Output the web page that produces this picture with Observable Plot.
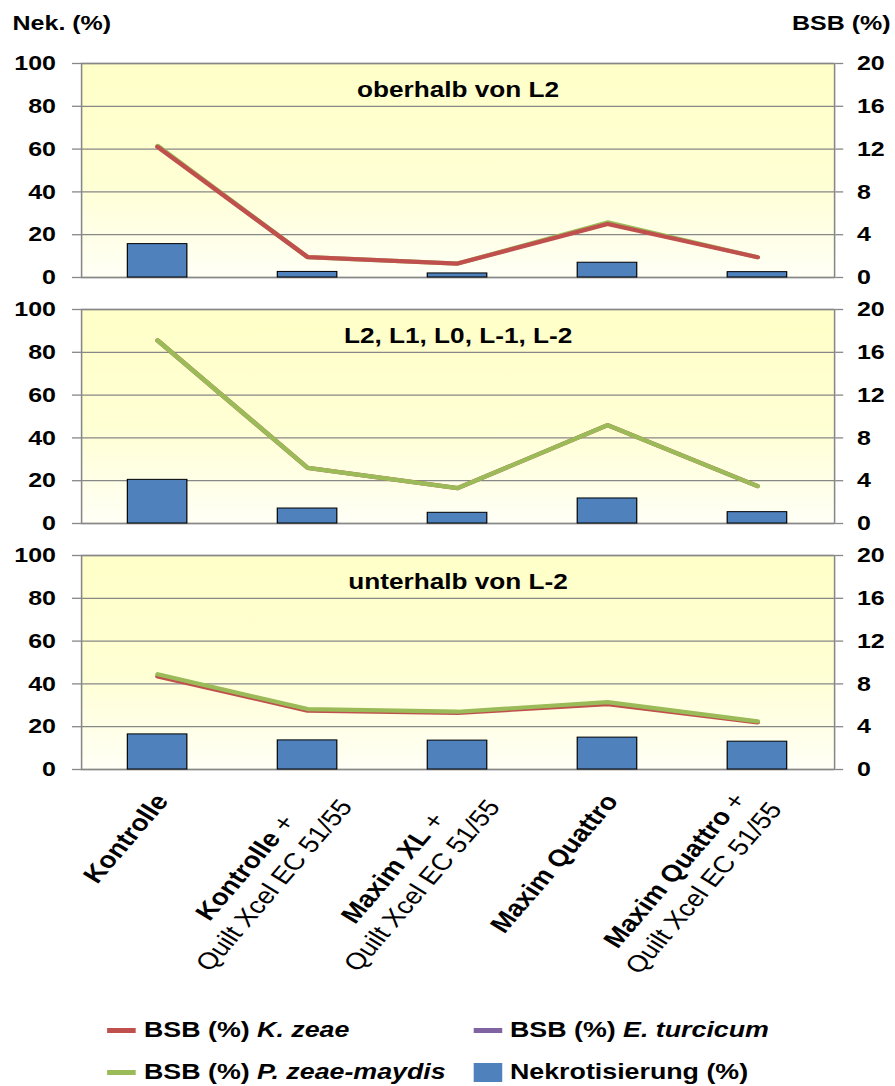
<!DOCTYPE html>
<html><head><meta charset="utf-8">
<script src="https://cdn.jsdelivr.net/npm/d3@7"></script>
<script src="https://cdn.jsdelivr.net/npm/@observablehq/plot@0.6"></script>
<style>
html,body{margin:0;padding:0;background:#fff;}
body{width:895px;height:1086px;overflow:hidden;font-family:"Liberation Sans",Arial,sans-serif;}
#wrap{position:relative;width:752px;height:1086px;transform-origin:0 0;}
#legend{position:absolute;left:0;top:0;font-weight:bold;font-size:22.5px;color:#000;}
.item{position:absolute;height:26px;display:flex;align-items:center;white-space:nowrap;}
.sw{display:inline-block;margin-right:7px;}
</style></head><body>
<div id="wrap"><div id="chart"></div><div id="legend"></div></div>
<script>
// ---------- data ----------
const panels = ["oberhalb von L2", "L2, L1, L0, L-1, L-2", "unterhalb von L-2"];
const categories = ["Kontrolle", "Kontrolle + Quilt Xcel EC 51/55", "Maxim XL + Quilt Xcel EC 51/55", "Maxim Quattro", "Maxim Quattro + Quilt Xcel EC 51/55"];
const catBold = ["Kontrolle", "Kontrolle", "Maxim XL", "Maxim Quattro", "Maxim Quattro"];
const catSuffix = ["", " +", " +", "", " +"];
const catLine2 = ["", "Quilt Xcel EC 51/55", "Quilt Xcel EC 51/55", "", "Quilt Xcel EC 51/55"];
const nekTicks = [0, 20, 40, 60, 80, 100];
const bsbTicks = [0, 4, 8, 12, 16, 20];

// Nekrotisierung (%) per panel
const nekOberhalb = [15.6, 2.6, 1.9, 6.9, 2.5];
const nekMitte = [20.4, 7.0, 5.0, 11.7, 5.3];
const nekUnterhalb = [16.4, 13.6, 13.5, 14.9, 13.0];
// BSB (%) K. zeae
const kZeaeOberhalb = [12.2, 1.9, 1.3, 5.0, 1.9];
const kZeaeMitte = [17.1, 5.2, 3.3, 9.2, 3.5];
const kZeaeUnterhalb = [8.7, 5.5, 5.3, 6.1, 4.4];
// BSB (%) P. zeae-maydis
const pZeaeOberhalb = [12.3, 1.9, 1.3, 5.15, 1.9];
const pZeaeMitte = [17.1, 5.2, 3.3, 9.2, 3.5];
const pZeaeUnterhalb = [8.9, 5.65, 5.4, 6.3, 4.5];
// BSB (%) E. turcicum (no visible values)
const eTurcOberhalb = [null, null, null, null, null];
const eTurcMitte = [null, null, null, null, null];
const eTurcUnterhalb = [null, null, null, null, null];

const legendText = ["BSB (%) ", "BSB (%) ", "BSB (%) ", "Nekrotisierung (%)"];
const legendSpecies = ["K. zeae", "E. turcicum", "P. zeae-maydis", ""];

// ---------- style ----------
const RED = "#C0504D", GREEN = "#9BBB59", PURPLE = "#8064A2", BLUE = "#4F81BD", GRID = "#878787";
const FONT = '"Liberation Sans", Arial, sans-serif';
const W0 = 752, SX = 895 / W0;
document.getElementById("wrap").style.transform = `scaleX(${SX})`;

const nek = [nekOberhalb, nekMitte, nekUnterhalb];
const kZeae = {color: RED, values: [kZeaeOberhalb, kZeaeMitte, kZeaeUnterhalb]};
const eTurc = {color: PURPLE, values: [eTurcOberhalb, eTurcMitte, eTurcUnterhalb]};
const pZeae = {color: GREEN, values: [pZeaeOberhalb, pZeaeMitte, pZeaeUnterhalb]};
const ratio = nekTicks[nekTicks.length - 1] / bsbTicks[bsbTicks.length - 1];

const bars = panels.flatMap((p, pi) => nek[pi].map((v, i) => ({panel: p, cat: categories[i], value: v})));
const lineRows = (s, keep) => panels.flatMap((p, pi) => keep(pi) ? s.values[pi].map((v, i) => ({panel: p, cat: categories[i], value: v})) : []);
const labelRows = categories.map((c, i) => ({panel: panels[2], cat: c, i}));

const lineOpts = color => ({
  x: "cat", y: d => d.value == null ? NaN : d.value * ratio, fy: "panel",
  stroke: color, strokeWidth: 4.2, strokeLinecap: "round", strokeLinejoin: "round"
});
// drawing order: in the upper panel the red line lies on top, below the green one
const lineMarks = [
  Plot.line(lineRows(pZeae, pi => pi === 0), lineOpts(GREEN)),
  Plot.line(lineRows(eTurc, () => true), lineOpts(PURPLE)),
  Plot.line(lineRows(kZeae, () => true), lineOpts(RED)),
  Plot.line(lineRows(pZeae, pi => pi > 0), lineOpts(GREEN))
];

const chart = Plot.plot({
  width: W0, height: 1000,
  marginLeft: 81 / SX, marginRight: 61 / SX, marginTop: 63, marginBottom: 231,
  style: {fontFamily: FONT, fontSize: "21px", color: "#000", background: "transparent", overflow: "visible"},
  x: {domain: categories, paddingInner: 0.6, paddingOuter: 0.3, axis: null},
  y: {domain: [0, 100], label: null},
  fy: {domain: panels, paddingInner: 0.1301, paddingOuter: 0, axis: null, label: null},
  marks: [
    Plot.frame({fill: "url(#bgGrad)"}),
    Plot.gridY({ticks: nekTicks, stroke: GRID, strokeOpacity: 1, strokeWidth: 1.3}),
    Plot.axisY({anchor: "left", ticks: nekTicks, tickSize: 9 / SX, tickPadding: 14, stroke: GRID, strokeWidth: 1.3,
      fill: "#000", fontSize: 21, fontWeight: "bold", label: null}),
    Plot.axisY({anchor: "right", ticks: nekTicks, tickFormat: d => bsbTicks[nekTicks.indexOf(d)], tickSize: 8 / SX, tickPadding: 12,
      stroke: GRID, strokeWidth: 1.3, fill: "#000", fontSize: 21, fontWeight: "bold", label: null}),
    Plot.frame({stroke: GRID, strokeWidth: 1.3}),
    Plot.barY(bars, {x: "cat", y: "value", fy: "panel", fill: BLUE, stroke: "#000", strokeWidth: 1}),
    ...lineMarks,
    Plot.text(panels, {fy: d => d, text: d => d, frameAnchor: "top", lineAnchor: "middle", dy: 26, fontSize: 22, fontWeight: "bold", fill: "#000"}),
    Plot.text([panels[0]], {fy: d => d, text: () => "Nek. (%)", frameAnchor: "top-left", textAnchor: "start", lineAnchor: "middle", dx: -58, dy: -40, fontSize: 21, fontWeight: "bold", fill: "#000"}),
    Plot.text([panels[0]], {fy: d => d, text: () => "BSB (%)", frameAnchor: "top-right", textAnchor: "end", lineAnchor: "middle", dx: 47, dy: -40, fontSize: 21, fontWeight: "bold", fill: "#000"}),
    Plot.text(labelRows, {x: "cat", fy: "panel", frameAnchor: "bottom",
      text: d => catBold[d.i] + catSuffix[d.i] + (catLine2[d.i] ? "\n" + catLine2[d.i] : ""),
      rotate: -54, textAnchor: "middle", lineAnchor: "middle", lineHeight: 1.28, fontSize: 23.5, fill: "#000", className: "xlab"})
  ]
});
document.getElementById("chart").append(chart);

// gradient background
const svg = chart.tagName.toLowerCase() === "svg" ? chart : chart.querySelector("svg");
const NS = "http://www.w3.org/2000/svg";
const defs = document.createElementNS(NS, "defs");
defs.innerHTML = '<linearGradient id="bgGrad" x1="0" y1="0" x2="0" y2="1"><stop offset="0" stop-color="#FFFFC8"/><stop offset="0.55" stop-color="#FFFFD4"/><stop offset="1" stop-color="#FFFFF6"/></linearGradient>';
svg.insertBefore(defs, svg.firstChild);

// x labels: bold first part, lines centered, right end near tick; extra lines push the block down
svg.querySelectorAll("g.xlab text").forEach((t, k) => {
  const tsp = t.querySelectorAll("tspan");
  const lines = tsp.length ? Array.from(tsp) : [t];
  const first = lines[0];
  first.textContent = "";
  const b = document.createElementNS(NS, "tspan");
  b.setAttribute("font-weight", "bold");
  b.textContent = catBold[k];
  first.appendChild(b);
  if (catSuffix[k]) first.appendChild(document.createTextNode(catSuffix[k]));
  const widths = lines.map(l => l.getComputedTextLength());
  const W = Math.max(...widths);
  const n = lines.length;
  const du = n > 1 ? -24 + 0.2 * (W - widths[0]) : -20;
  const dv = n > 1 ? 28 - 0.2 * (widths[0] - 125) : 17;
  const tr = t.getAttribute("transform") || "";
  t.setAttribute("transform", tr + ` translate(${-W / 2 + du},${dv})`);
});

// legend
const legend = document.getElementById("legend");
const legendColors = [RED, PURPLE, GREEN, BLUE];
const legendPos = [[90, 1017], [397.5, 1017], [90, 1059], [397.5, 1059]];
legendText.forEach((txt, i) => {
  const it = document.createElement("div");
  it.className = "item";
  it.style.left = legendPos[i][0] + "px";
  it.style.top = legendPos[i][1] + "px";
  const sw = document.createElement("span");
  sw.className = "sw";
  sw.style.width = "24px";
  sw.style.height = i === 3 ? "19px" : "5px";
  sw.style.background = legendColors[i];
  it.appendChild(sw);
  const s = document.createElement("span");
  s.textContent = txt;
  if (legendSpecies[i]) {
    const em = document.createElement("i");
    em.textContent = legendSpecies[i];
    s.appendChild(em);
  }
  it.appendChild(s);
  legend.appendChild(it);
});
</script>
</body></html>
